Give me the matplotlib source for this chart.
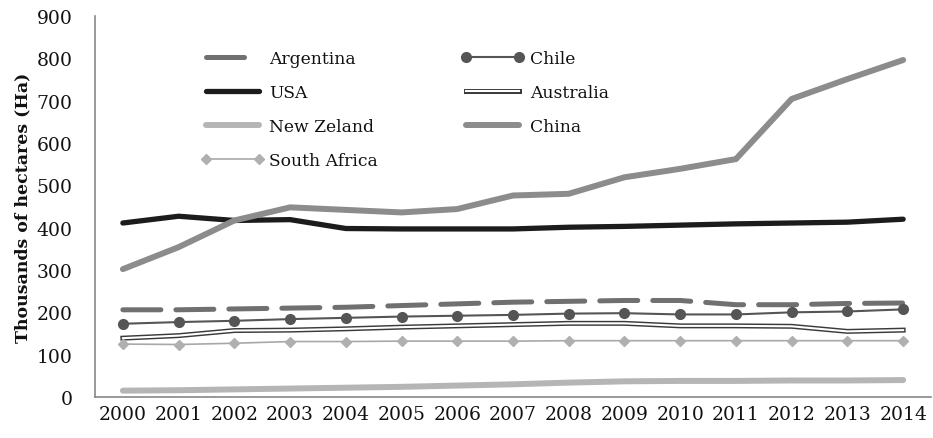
import matplotlib
matplotlib.use("Agg")
import matplotlib.pyplot as plt
from matplotlib.legend_handler import HandlerTuple

years = [str(y) for y in range(2000, 2015)]
argentina = [206, 206, 208, 210, 212, 216, 220, 224, 226, 228, 228, 218, 218, 221, 222]
chile = [173, 177, 180, 184, 187, 190, 192, 194, 197, 198, 195, 195, 200, 202, 207]
usa = [411, 427, 417, 419, 398, 397, 397, 397, 401, 403, 406, 409, 411, 413, 420]
australia = [139, 145, 157, 158, 161, 165, 168, 171, 174, 174, 168, 168, 167, 155, 158]
new_zeland = [15, 16, 18, 20, 22, 24, 27, 30, 34, 37, 38, 38, 39, 39, 40]
china = [302, 354, 417, 448, 442, 436, 444, 476, 480, 519, 539, 562, 704, 751, 796]
south_africa = [125, 124, 127, 131, 131, 132, 132, 132, 133, 133, 133, 133, 133, 133, 133]
yticks = [0, 100, 200, 300, 400, 500, 600, 700, 800, 900]

FONT = "DejaVu Serif"
plt.rcParams["font.family"] = FONT

fig = plt.figure(figsize=(9.33, 4.39), dpi=100)
ax = fig.add_axes([95/933, 1-398/439, (931-95)/933, (398-17)/439])
x = list(range(len(years)))

h_arg, = ax.plot(x, argentina, color="#707070", lw=3.6, dashes=(7.6, 3.0),
                 dash_capstyle="round", solid_capstyle="round", label="Argentina")
h_chi, = ax.plot(x, chile, color="#555555", lw=1.5, marker="o", markersize=7,
                 markerfacecolor="#555555", markeredgecolor="#555555", label="Chile")
h_usa, = ax.plot(x, usa, color="#1c1c1c", lw=3.8, solid_capstyle="round", label="USA")
a1, = ax.plot(x, australia, color="#3a3a3a", lw=3.6)
a2, = ax.plot(x, australia, color="white", lw=1.5)
h_nz, = ax.plot(x, new_zeland, color="#b5b5b5", lw=4.3, solid_capstyle="round", label="New Zeland")
h_cn, = ax.plot(x, china, color="#8c8c8c", lw=4.3, solid_capstyle="round", label="China")
h_sa, = ax.plot(x, south_africa, color="#a8a8a8", lw=1.2, marker="D", markersize=5,
                markerfacecolor="#b0b0b0", markeredgecolor="#b0b0b0", label="South Africa")

ax.set_xlim(-0.5, len(years) - 0.5)
ax.set_ylim(0, 900)
ax.set_yticks(yticks)
ax.set_xticks(x)
ax.set_xticklabels(years)
ax.tick_params(axis="both", length=0, labelsize=13.5, colors="#111111")
ax.tick_params(axis="y", pad=16)
ax.tick_params(axis="x", pad=6)
for s in ["top", "right"]:
    ax.spines[s].set_visible(False)
for s in ["left", "bottom"]:
    ax.spines[s].set_color("#888888")
    ax.spines[s].set_linewidth(1.2)

ax.set_ylabel("Thousands of hectares (Ha)", fontsize=12.5, fontweight="bold", labelpad=4, color="#111111")

handles = [h_arg, h_usa, h_nz, h_sa, h_chi, (a1, a2), h_cn]
labels = ["Argentina", "USA", "New Zeland", "South Africa", "Chile", "Australia", "China"]
leg = ax.legend(handles, labels, ncol=2, frameon=False, loc="upper left",
                bbox_to_anchor=(192/933, 1-42/439), bbox_transform=fig.transFigure,
                fontsize=12.3, numpoints=2, handlelength=3.7, handletextpad=0.3,
                columnspacing=4.9, labelspacing=1.0, borderpad=0,
                handler_map={tuple: HandlerTuple(ndivide=1)})
for t in leg.get_texts():
    t.set_color("#111111")

fig.savefig("out.png", dpi=100)
